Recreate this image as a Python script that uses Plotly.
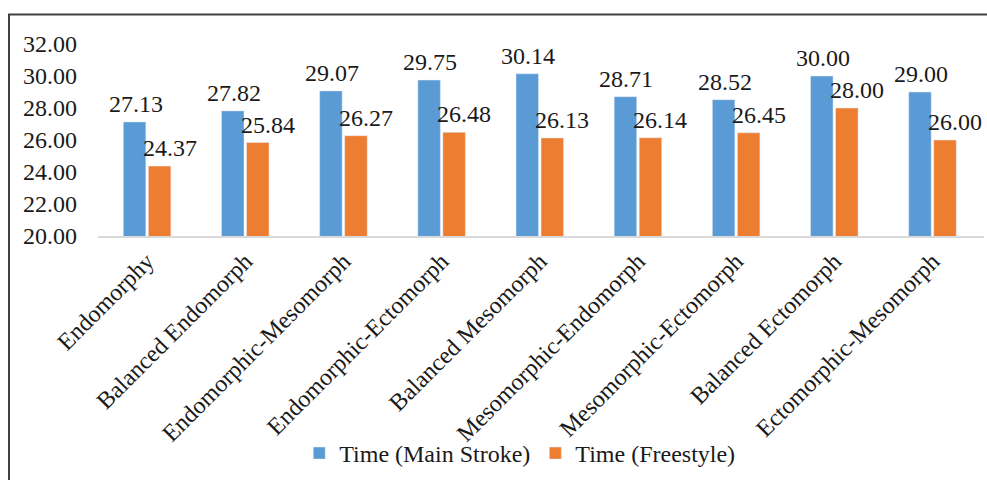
import plotly.graph_objects as go

# Somatotype categories and swim times
categories = [
    "Endomorphy", "Balanced Endomorph", "Endomorphic-Mesomorph",
    "Endomorphic-Ectomorph", "Balanced Mesomorph", "Mesomorphic-Endomorph",
    "Mesomorphic-Ectomorph", "Balanced Ectomorph", "Ectomorphic-Mesomorph",
]
main_stroke = [27.13, 27.82, 29.07, 29.75, 30.14, 28.71, 28.52, 30.00, 29.00]
freestyle = [24.37, 25.84, 26.27, 26.48, 26.13, 26.14, 26.45, 28.00, 26.00]
y_ticks = [20, 22, 24, 26, 28, 30, 32]

FONT = "Liberation Serif"
TXT = "#1a1a1a"
FS = 24
BARGAP = 0.49

fig = go.Figure()
fig.add_trace(go.Bar(
    name="Time (Main Stroke)", x=categories, y=main_stroke,
    marker=dict(color="#5B9BD5"),
))
fig.add_trace(go.Bar(
    name="Time (Freestyle)", x=categories, y=freestyle,
    marker=dict(color="#ED7D31"),
))

# value labels above each bar, placed at the bar's centre in data units
half_slot = (1 - BARGAP) / 4
annotations = []
for series, offset, xshift in ((main_stroke, -half_slot, 1), (freestyle, half_slot, 10)):
    for i, v in enumerate(series):
        annotations.append(dict(
            x=i + offset, y=v, xref="x", yref="y",
            text=f"{v:.2f}", showarrow=False,
            xanchor="center", yanchor="bottom", xshift=xshift, yshift=3,
            font=dict(family=FONT, size=FS, color=TXT),
        ))

plot_h = 480 - 44 - 240
fig.update_layout(
    width=987, height=480,
    margin=dict(l=98, r=3, t=44, b=240),
    paper_bgcolor="white", plot_bgcolor="white",
    barmode="group", bargap=BARGAP, bargroupgap=0.1,
    font=dict(family=FONT, size=FS, color=TXT),
    showlegend=True,
    legend=dict(
        orientation="h", x=0.476, y=(240 - 462) / plot_h,
        xanchor="center", yanchor="middle",
        font=dict(family=FONT, size=FS, color=TXT),
        itemwidth=30, bgcolor="rgba(0,0,0,0)",
    ),
    xaxis=dict(
        tickangle=-45, showgrid=False, showline=True,
        linecolor="#D9D9D9", linewidth=1.5, ticks="",
        tickfont=dict(family=FONT, size=FS, color=TXT),
    ),
    yaxis=dict(
        range=[20, 32], tickvals=y_ticks,
        ticktext=[f"{v:.2f}" for v in y_ticks],
        showgrid=False, zeroline=False, showline=False,
        ticklabelstandoff=20,
        tickfont=dict(family=FONT, size=FS, color=TXT),
    ),
    annotations=annotations,
    shapes=[dict(
        type="rect", xref="paper", yref="paper",
        x0=(9 - 98) / 886, x1=1.2,
        y0=-2.0, y1=(240 - 14) / plot_h,
        line=dict(color="#404040", width=2), fillcolor="rgba(0,0,0,0)",
        layer="above",
    )],
)

fig.write_html("out.html")
